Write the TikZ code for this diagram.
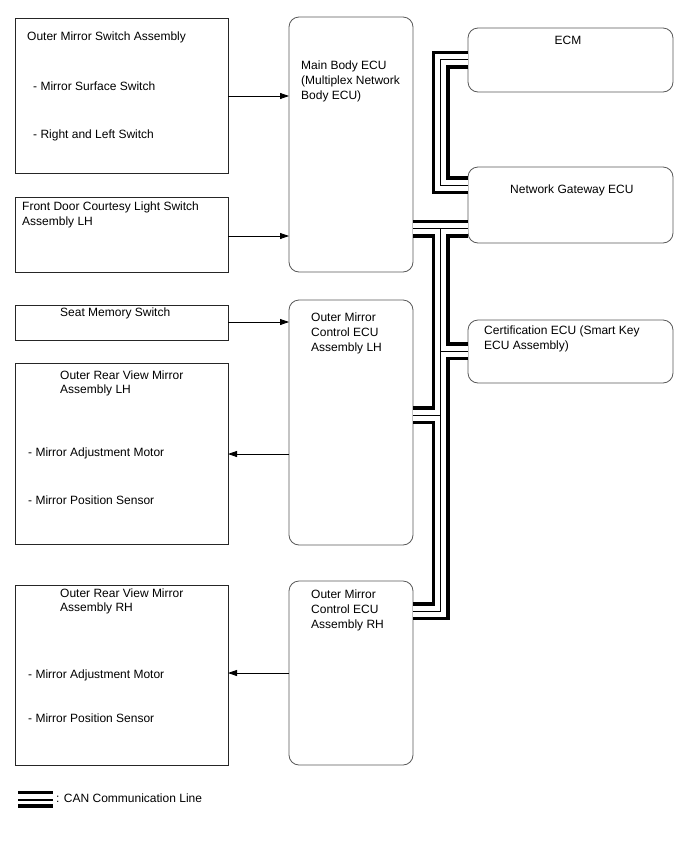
\documentclass[tikz,border=0pt]{standalone}
\usepackage{fontspec}
\setmainfont{Liberation Sans}
\usetikzlibrary{arrows.meta}
\begin{document}
\begin{tikzpicture}[x=1pt,y=-1pt,
  sqbox/.style={draw=black!85, line width=0.8pt, rectangle, inner sep=0pt, outer sep=0pt, anchor=north west},
  rbox/.style={draw=black!65, line width=0.8pt, rectangle, rounded corners=10pt, inner sep=0pt, outer sep=0pt, anchor=north west},
  txt/.style={anchor=base west, inner sep=0pt, font=\fontsize{12}{15}\selectfont},
  ctxt/.style={anchor=base, inner sep=0pt, font=\fontsize{12}{15}\selectfont},
  arr/.style={draw=black, line width=0.8pt, -{Triangle[length=9pt,width=6pt]}},
  canA/.style={line width=18pt, draw=black, line join=miter},
  canB/.style={line width=11pt, draw=white, line join=miter},
  canC/.style={line width=1pt, draw=black, line join=miter},
]
\fill[white] (0,0) rectangle (688,852);
\useasboundingbox (0,0) rectangle (688,852);

% boxes
\node[sqbox, minimum width=213pt, minimum height=155pt] (oms) at (15,18) {};
\node[sqbox, minimum width=213pt, minimum height=75pt] (fdc) at (15,197) {};
\node[rbox, minimum width=124pt, minimum height=255pt] (mb) at (289,17) {};
\node[rbox, minimum width=205pt, minimum height=64pt] (ecm) at (468,28) {};
\node[rbox, minimum width=205pt, minimum height=76pt] (ngw) at (468,167) {};
\node[rbox, minimum width=205pt, minimum height=63pt] (cert) at (468,320) {};
\node[sqbox, minimum width=213pt, minimum height=35pt] (smw) at (15,305) {};
\node[rbox, minimum width=124pt, minimum height=245pt] (lhecu) at (289,300) {};
\node[sqbox, minimum width=213pt, minimum height=181pt] (orl) at (15,363) {};
\node[sqbox, minimum width=213pt, minimum height=180pt] (orr) at (15,585) {};
\node[rbox, minimum width=124pt, minimum height=184pt] (rhecu) at (289,581) {};

% arrows
\draw[arr] (oms.east |- 0,96) -- (mb.west |- 0,96);
\draw[arr] (fdc.east |- 0,236) -- (mb.west |- 0,236);
\draw[arr] (smw.east |- 0,322) -- (lhecu.west |- 0,322);
\draw[arr] (lhecu.west |- 0,454) -- (orl.east |- 0,454);
\draw[arr] (rhecu.west |- 0,673) -- (orr.east |- 0,673);

% CAN bus
\coordinate (b1) at (440.5,59.5);
\coordinate (b2) at (440.5,185);
\coordinate (j1) at (440.5,228.5);
\coordinate (j2) at (440.5,351);
\coordinate (j3) at (440.5,415);
\coordinate (j4) at (440.5,611);
\newcommand\canroute[1]{%
  \draw[#1] (ecm.west |- b1) -- (b1) -- (b2) -- (ngw.west |- b2);
  \draw[#1] (mb.east |- j1) -- (ngw.west |- j1);
  \draw[#1] (j1) -- (j4) -- (rhecu.east |- j4);
  \draw[#1] (j2) -- (cert.west |- j2);
  \draw[#1] (j3) -- (lhecu.east |- j3);
}
\canroute{canA}
\canroute{canB}
\canroute{canC}

% texts
\node[txt] (t1) at (27,40) {Outer Mirror Switch Assembly};
\node[txt] (t2) at (33,90) {- Mirror Surface Switch};
\node[txt] (t3) at (33,138) {- Right and Left Switch};
\node[txt] (t4) at (22,210) {Front Door Courtesy Light Switch};
\node[txt] (t5) at (22,225) {Assembly LH};
\node[txt] (t6) at (301,69) {Main Body ECU};
\node[txt] (t7) at (301,84) {(Multiplex Network};
\node[txt] (t8) at (301,99) {Body ECU)};
\node[ctxt] (t9) at (568,44) {ECM};
\node[txt] (t10) at (510,193) {Network Gateway ECU};
\node[txt] (t11) at (484,334) {Certification ECU (Smart Key};
\node[txt] (t12) at (484,349) {ECU Assembly)};
\node[txt] (t13) at (60,316) {Seat Memory Switch};
\node[txt] (t14) at (311,321) {Outer Mirror};
\node[txt] (t15) at (311,336) {Control ECU};
\node[txt] (t16) at (311,351) {Assembly LH};
\node[txt] (t17) at (60,379) {Outer Rear View Mirror};
\node[txt] (t18) at (60,393) {Assembly LH};
\node[txt] (t19) at (28,456) {- Mirror Adjustment Motor};
\node[txt] (t20) at (28,504) {- Mirror Position Sensor};
\node[txt] (t21) at (60,597) {Outer Rear View Mirror};
\node[txt] (t22) at (60,611) {Assembly RH};
\node[txt] (t23) at (28,678) {- Mirror Adjustment Motor};
\node[txt] (t24) at (28,722) {- Mirror Position Sensor};
\node[txt] (t25) at (311,598) {Outer Mirror};
\node[txt] (t26) at (311,613) {Control ECU};
\node[txt] (t27) at (311,628) {Assembly RH};

% legend
\coordinate (lg1) at (18,0);
\coordinate (lg2) at (53,0);
\draw[line width=3.3pt] (lg1 |- 0,792.3) -- (lg2 |- 0,792.3);
\draw[line width=1.8pt] (lg1 |- 0,800) -- (lg2 |- 0,800);
\draw[line width=3.3pt] (lg1 |- 0,806) -- (lg2 |- 0,806);
\node[txt] (t28) at (56,802) {: CAN Communication Line};
\end{tikzpicture}
\end{document}
